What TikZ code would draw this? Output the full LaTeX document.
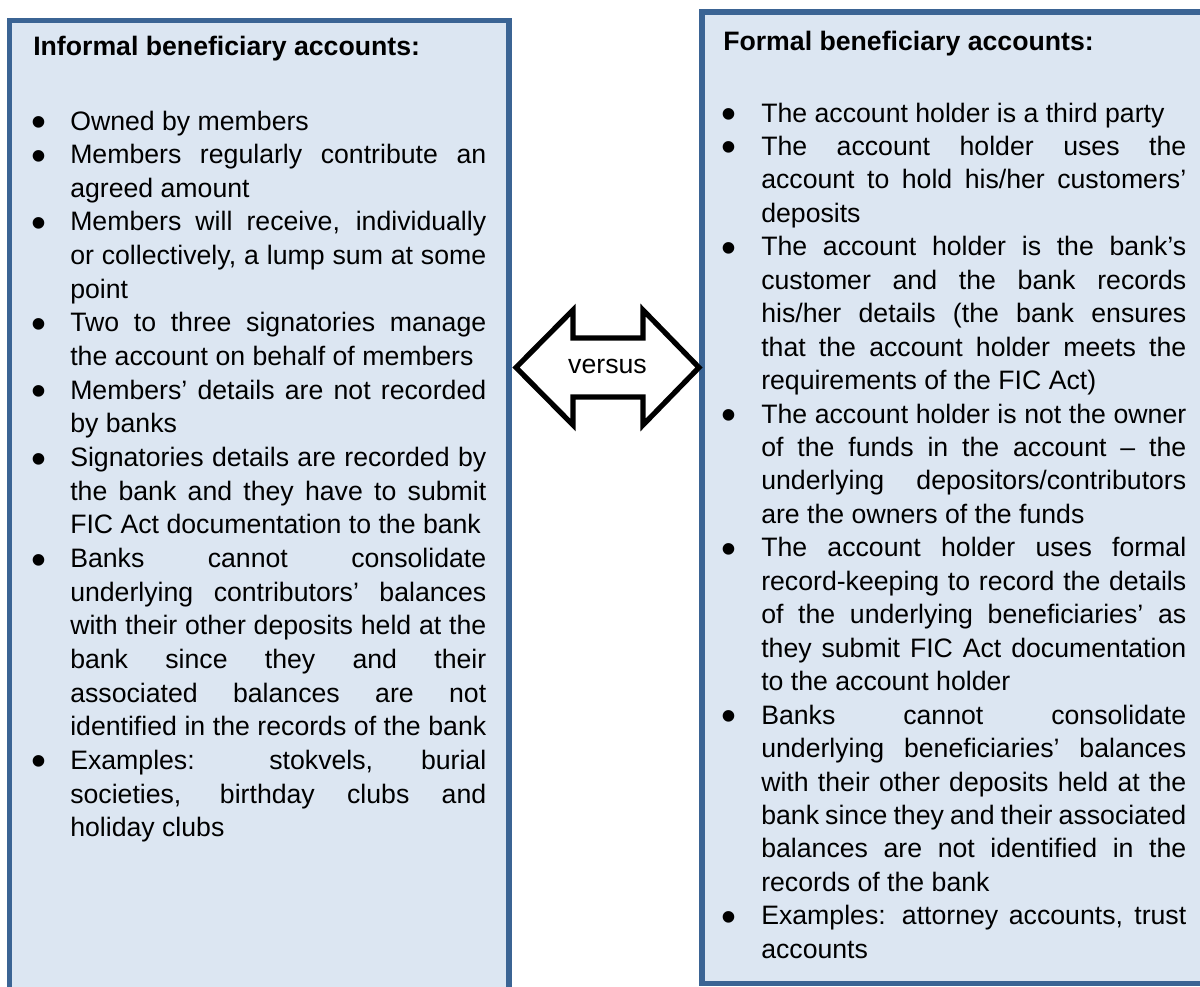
\documentclass[tikz,border=0pt]{standalone}
\usepackage{fontspec}
\setmainfont{Liberation Sans}
\usepackage{graphicx}

\definecolor{panelline}{HTML}{3B6494}
\definecolor{panelfill}{HTML}{DCE6F2}

% one pixel of the drawing grid
\newlength\pxu
\setlength\pxu{0.75pt}
\newlength\colw
\newlength\indw

% list lines: bullet + justified / natural, continuation + justified / natural
\newcommand\dotlead{\makebox[0pt]{\smash{\raisebox{-4.9pt}{\scalebox{1.6}{•}}}}\hspace*{\indw}}
\newcommand\contlead{\hspace*{\indw}}
\newcommand\bj[1]{\dotlead\makebox[\colw][s]{#1}\par}
\newcommand\bn[1]{\dotlead #1\par}
\newcommand\cj[1]{\contlead\makebox[\colw][s]{#1}\par}
\newcommand\cn[1]{\contlead #1\par}

\tikzset{
  panel/.style={draw=panelline, fill=panelfill, line width=3.9pt,
    anchor=north west, inner sep=0pt, outer sep=0pt},
  heading/.style={anchor=base west, inner sep=0pt,
    font=\bfseries\fontsize{20pt}{24pt}\selectfont},
  listblock/.style={anchor=base west, inner sep=0pt},
  versusarrow/.style={draw=black, fill=white, line width=3.9pt, line join=miter},
  versuslabel/.style={inner sep=0pt, font=\fontsize{20pt}{24pt}\selectfont}
}

\begin{document}
\begin{tikzpicture}[x=0.75pt, y=-0.75pt]
\useasboundingbox (0,0) rectangle (1200,986);
\clip (0,0) rectangle (1200,986);

% the two panels
\node (informal) [panel, minimum width=499.5\pxu, minimum height=990\pxu] at (9.5,20.5) {};
\node (formal) [panel, minimum width=510\pxu, minimum height=971.5\pxu] at (702,12) {};

% headings
\node (informalhead) [heading] at (33,55) {Informal beneficiary accounts:};
\node (formalhead) [heading] at (723,50) {Formal beneficiary accounts:};

% informal list
\node (informallist) [listblock] at (39,130) {%
  \setlength\colw{416\pxu}\setlength\indw{31\pxu}%
  \parbox[t]{447\pxu}{\fontsize{20pt}{25.24pt}\selectfont
  \bn{Owned by members}
  \bj{Members regularly contribute an}
  \cn{agreed amount}
  \bj{Members will receive, individually}
  \cj{or collectively, a lump sum at some}
  \cn{point}
  \bj{Two to three signatories manage}
  \cn{the account on behalf of members}
  \bj{Members' details are not recorded}
  \cn{by banks}
  \bj{Signatories details are recorded by}
  \cj{the bank and they have to submit}
  \cn{FIC Act documentation to the bank}
  \bj{Banks cannot consolidate}
  \cj{underlying contributors' balances}
  \cj{with their other deposits held at the}
  \cj{bank since they and their}
  \cj{associated balances are not}
  \cj{identified in the records of the bank}
  \bj{Examples: stokvels, burial}
  \cj{societies, birthday clubs and}
  \cn{holiday clubs}}};

% formal list
\node (formallist) [listblock] at (729,122) {%
  \setlength\colw{425\pxu}\setlength\indw{32\pxu}%
  \parbox[t]{457\pxu}{\fontsize{20pt}{25.09pt}\selectfont
  \bn{The account holder is a third party}
  \bj{The account holder uses the}
  \cj{account to hold his/her customers'}
  \cn{deposits}
  \bj{The account holder is the bank's}
  \cj{customer and the bank records}
  \cj{his/her details (the bank ensures}
  \cj{that the account holder meets the}
  \cn{requirements of the FIC Act)}
  \bj{The account holder is not the owner}
  \cj{of the funds in the account -- the}
  \cj{underlying depositors/contributors}
  \cn{are the owners of the funds}
  \bj{The account holder uses formal}
  \cj{record-keeping to record the details}
  \cj{of the underlying beneficiaries' as}
  \cj{they submit FIC Act documentation}
  \cn{to the account holder}
  \bj{Banks cannot consolidate}
  \cj{underlying beneficiaries' balances}
  \cj{with their other deposits held at the}
  \cj{bank since they and their associated}
  \cj{balances are not identified in the}
  \cn{records of the bank}
  \bj{Examples: attorney accounts, trust}
  \cn{accounts}}};

% double-headed "versus" arrow between the panels
\draw[versusarrow] (516,367.5) -- (573,310) -- (573,338) -- (643,338) -- (643,310)
  -- (699,367.5) -- (643,425) -- (643,397) -- (573,397) -- (573,425) -- cycle;
\node (versus) [versuslabel] at (607.5,366) {versus};
\end{tikzpicture}
\end{document}
